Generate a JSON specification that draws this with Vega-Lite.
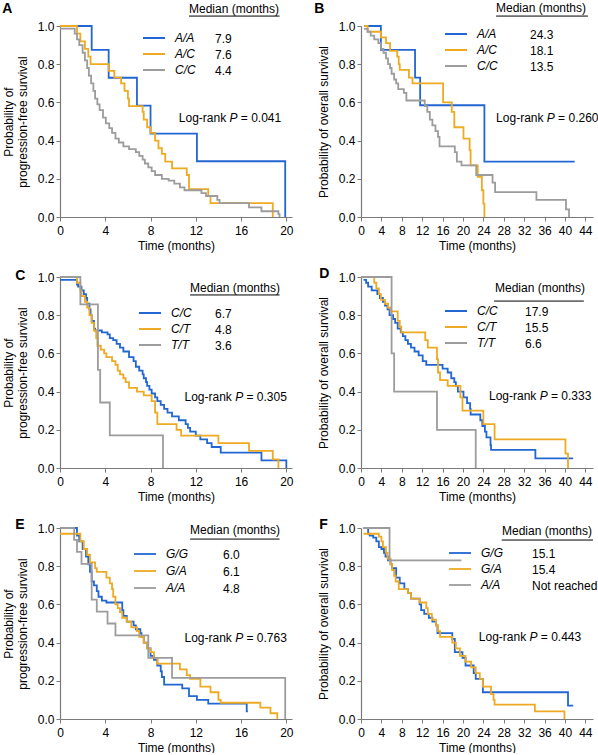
{
  "$schema": "https://vega.github.io/schema/vega-lite/v6.json",
  "background": "white",
  "padding": {"left": 2, "top": 2, "right": 0, "bottom": 0},
  "columns": 2,
  "spacing": {"column": 20, "row": 16},
  "resolve": {"scale": {"color": "independent", "opacity": "independent", "x": "independent", "y": "independent"}, "legend": {"color": "independent", "opacity": "independent"}},
  "config": {
    "font": "Liberation Sans",
    "view": {"stroke": null},
    "axis": {"domainColor": "#7a7a7a", "tickColor": "#7a7a7a", "labelColor": "#000000", "titleColor": "#000000", "labelFontSize": 12, "titleFontSize": 12, "titleFontWeight": "normal", "grid": false, "tickSize": 4, "labelPadding": 2, "labelFlush": false, "labelOverlap": false, "domainWidth": 1.2, "tickCount": 20},
    "axisX": {"titlePadding": 4, "labelPadding": 4},
    "axisY": {"titlePadding": 8},
    "legend": {"padding": 0, "labelFontSize": 12, "labelColor": "#000000", "titleColor": "#000000", "titleFontSize": 12, "titleFontWeight": "normal", "clipHeight": 14, "rowPadding": 2, "orient": "none"},
    "title": {"anchor": "start", "frame": "bounds", "fontSize": 14, "fontWeight": "bold", "offset": 0, "color": "#000000"},
    "line": {"interpolate": "step-after", "strokeWidth": 1.8},
    "text": {"fontSize": 12, "align": "left", "baseline": "middle", "color": "#000000"}
  },
  "datasets": {
    "A": [
      {"g":"A/A","m":"7.9","t":0,"s":1},{"g":"A/A","m":"7.9","t":2.8,"s":0.875},{"g":"A/A","m":"7.9","t":4.3,"s":0.729},{"g":"A/A","m":"7.9","t":6.8,"s":0.583},{"g":"A/A","m":"7.9","t":8.0,"s":0.437},{"g":"A/A","m":"7.9","t":12.1,"s":0.292},{"g":"A/A","m":"7.9","t":19.9,"s":0},
      {"g":"A/C","m":"7.6","t":0,"s":1},{"g":"A/C","m":"7.6","t":1.5,"s":0.96},{"g":"A/C","m":"7.6","t":1.8,"s":0.92},{"g":"A/C","m":"7.6","t":2.2,"s":0.88},{"g":"A/C","m":"7.6","t":2.5,"s":0.84},{"g":"A/C","m":"7.6","t":2.7,"s":0.8},{"g":"A/C","m":"7.6","t":4.3,"s":0.765},{"g":"A/C","m":"7.6","t":4.8,"s":0.73},{"g":"A/C","m":"7.6","t":5.4,"s":0.7},{"g":"A/C","m":"7.6","t":5.7,"s":0.66},{"g":"A/C","m":"7.6","t":6.0,"s":0.62},{"g":"A/C","m":"7.6","t":6.1,"s":0.58},{"g":"A/C","m":"7.6","t":7.3,"s":0.55},{"g":"A/C","m":"7.6","t":7.4,"s":0.51},{"g":"A/C","m":"7.6","t":7.7,"s":0.47},{"g":"A/C","m":"7.6","t":8.0,"s":0.44},{"g":"A/C","m":"7.6","t":8.4,"s":0.4},{"g":"A/C","m":"7.6","t":8.7,"s":0.36},{"g":"A/C","m":"7.6","t":9.0,"s":0.33},{"g":"A/C","m":"7.6","t":9.3,"s":0.29},{"g":"A/C","m":"7.6","t":9.9,"s":0.255},{"g":"A/C","m":"7.6","t":11.2,"s":0.22},{"g":"A/C","m":"7.6","t":11.4,"s":0.146},{"g":"A/C","m":"7.6","t":13.1,"s":0.11},{"g":"A/C","m":"7.6","t":13.3,"s":0.073},{"g":"A/C","m":"7.6","t":18.8,"s":0},
      {"g":"C/C","m":"4.4","t":0,"s":0.986},{"g":"C/C","m":"4.4","t":1.3,"s":0.96},{"g":"C/C","m":"4.4","t":1.5,"s":0.93},{"g":"C/C","m":"4.4","t":1.7,"s":0.9},{"g":"C/C","m":"4.4","t":2.0,"s":0.86},{"g":"C/C","m":"4.4","t":2.2,"s":0.82},{"g":"C/C","m":"4.4","t":2.4,"s":0.78},{"g":"C/C","m":"4.4","t":2.55,"s":0.74},{"g":"C/C","m":"4.4","t":2.75,"s":0.7},{"g":"C/C","m":"4.4","t":2.95,"s":0.66},{"g":"C/C","m":"4.4","t":3.1,"s":0.62},{"g":"C/C","m":"4.4","t":3.3,"s":0.59},{"g":"C/C","m":"4.4","t":3.5,"s":0.56},{"g":"C/C","m":"4.4","t":3.8,"s":0.52},{"g":"C/C","m":"4.4","t":4.05,"s":0.49},{"g":"C/C","m":"4.4","t":4.35,"s":0.465},{"g":"C/C","m":"4.4","t":4.6,"s":0.44},{"g":"C/C","m":"4.4","t":4.9,"s":0.41},{"g":"C/C","m":"4.4","t":5.2,"s":0.39},{"g":"C/C","m":"4.4","t":5.6,"s":0.37},{"g":"C/C","m":"4.4","t":6.1,"s":0.355},{"g":"C/C","m":"4.4","t":6.7,"s":0.34},{"g":"C/C","m":"4.4","t":7.0,"s":0.32},{"g":"C/C","m":"4.4","t":7.3,"s":0.3},{"g":"C/C","m":"4.4","t":7.5,"s":0.28},{"g":"C/C","m":"4.4","t":7.8,"s":0.26},{"g":"C/C","m":"4.4","t":8.1,"s":0.24},{"g":"C/C","m":"4.4","t":8.4,"s":0.22},{"g":"C/C","m":"4.4","t":9.0,"s":0.2},{"g":"C/C","m":"4.4","t":9.6,"s":0.19},{"g":"C/C","m":"4.4","t":10.1,"s":0.175},{"g":"C/C","m":"4.4","t":10.6,"s":0.155},{"g":"C/C","m":"4.4","t":11.0,"s":0.14},{"g":"C/C","m":"4.4","t":12.5,"s":0.125},{"g":"C/C","m":"4.4","t":12.9,"s":0.11},{"g":"C/C","m":"4.4","t":13.9,"s":0.09},{"g":"C/C","m":"4.4","t":14.1,"s":0.073},{"g":"C/C","m":"4.4","t":16.7,"s":0.05},{"g":"C/C","m":"4.4","t":17.8,"s":0.03},{"g":"C/C","m":"4.4","t":19.3,"s":0.015},{"g":"C/C","m":"4.4","t":19.4,"s":0}
    ],
    "B": [
      {"g":"A/A","m":"24.3","t":0.6,"s":1},{"g":"A/A","m":"24.3","t":3.9,"s":0.875},{"g":"A/A","m":"24.3","t":10.6,"s":0.73},{"g":"A/A","m":"24.3","t":11.6,"s":0.585},{"g":"A/A","m":"24.3","t":24.2,"s":0.29},{"g":"A/A","m":"24.3","t":41.9,"s":0.29},
      {"g":"A/C","m":"18.1","t":0.6,"s":1},{"g":"A/C","m":"18.1","t":1.3,"s":0.97},{"g":"A/C","m":"18.1","t":3.9,"s":0.94},{"g":"A/C","m":"18.1","t":4.9,"s":0.91},{"g":"A/C","m":"18.1","t":5.7,"s":0.87},{"g":"A/C","m":"18.1","t":7.1,"s":0.84},{"g":"A/C","m":"18.1","t":7.4,"s":0.8},{"g":"A/C","m":"18.1","t":7.6,"s":0.77},{"g":"A/C","m":"18.1","t":9.4,"s":0.73},{"g":"A/C","m":"18.1","t":10.1,"s":0.7},{"g":"A/C","m":"18.1","t":16.1,"s":0.6},{"g":"A/C","m":"18.1","t":17.8,"s":0.55},{"g":"A/C","m":"18.1","t":18.3,"s":0.47},{"g":"A/C","m":"18.1","t":20.1,"s":0.41},{"g":"A/C","m":"18.1","t":21.3,"s":0.35},{"g":"A/C","m":"18.1","t":21.5,"s":0.27},{"g":"A/C","m":"18.1","t":22.9,"s":0.21},{"g":"A/C","m":"18.1","t":23.7,"s":0.14},{"g":"A/C","m":"18.1","t":24.0,"s":0.07},{"g":"A/C","m":"18.1","t":24.2,"s":0},
      {"g":"C/C","m":"13.5","t":0.6,"s":0.985},{"g":"C/C","m":"13.5","t":1.3,"s":0.97},{"g":"C/C","m":"13.5","t":1.9,"s":0.95},{"g":"C/C","m":"13.5","t":2.6,"s":0.93},{"g":"C/C","m":"13.5","t":3.4,"s":0.91},{"g":"C/C","m":"13.5","t":3.9,"s":0.88},{"g":"C/C","m":"13.5","t":4.4,"s":0.86},{"g":"C/C","m":"13.5","t":4.9,"s":0.83},{"g":"C/C","m":"13.5","t":5.3,"s":0.8},{"g":"C/C","m":"13.5","t":5.7,"s":0.78},{"g":"C/C","m":"13.5","t":6.0,"s":0.75},{"g":"C/C","m":"13.5","t":6.5,"s":0.72},{"g":"C/C","m":"13.5","t":6.9,"s":0.7},{"g":"C/C","m":"13.5","t":7.3,"s":0.67},{"g":"C/C","m":"13.5","t":8.4,"s":0.65},{"g":"C/C","m":"13.5","t":8.9,"s":0.61},{"g":"C/C","m":"13.5","t":12.5,"s":0.58},{"g":"C/C","m":"13.5","t":13.0,"s":0.55},{"g":"C/C","m":"13.5","t":13.5,"s":0.51},{"g":"C/C","m":"13.5","t":14.0,"s":0.48},{"g":"C/C","m":"13.5","t":14.6,"s":0.45},{"g":"C/C","m":"13.5","t":15.1,"s":0.42},{"g":"C/C","m":"13.5","t":15.4,"s":0.37},{"g":"C/C","m":"13.5","t":18.4,"s":0.34},{"g":"C/C","m":"13.5","t":18.8,"s":0.29},{"g":"C/C","m":"13.5","t":19.7,"s":0.27},{"g":"C/C","m":"13.5","t":22.6,"s":0.22},{"g":"C/C","m":"13.5","t":25.8,"s":0.18},{"g":"C/C","m":"13.5","t":26.3,"s":0.13},{"g":"C/C","m":"13.5","t":34.4,"s":0.09},{"g":"C/C","m":"13.5","t":40.2,"s":0.04},{"g":"C/C","m":"13.5","t":40.8,"s":0}
    ],
    "C": [
      {"g":"C/C","m":"6.7","t":0,"s":0.985},{"g":"C/C","m":"6.7","t":1.5,"s":0.96},{"g":"C/C","m":"6.7","t":1.6,"s":0.95},{"g":"C/C","m":"6.7","t":1.9,"s":0.93},{"g":"C/C","m":"6.7","t":2.1,"s":0.91},{"g":"C/C","m":"6.7","t":2.3,"s":0.89},{"g":"C/C","m":"6.7","t":2.4,"s":0.86},{"g":"C/C","m":"6.7","t":2.6,"s":0.83},{"g":"C/C","m":"6.7","t":2.7,"s":0.8},{"g":"C/C","m":"6.7","t":2.8,"s":0.77},{"g":"C/C","m":"6.7","t":3.0,"s":0.73},{"g":"C/C","m":"6.7","t":3.1,"s":0.72},{"g":"C/C","m":"6.7","t":3.7,"s":0.71},{"g":"C/C","m":"6.7","t":4.2,"s":0.7},{"g":"C/C","m":"6.7","t":4.4,"s":0.68},{"g":"C/C","m":"6.7","t":4.7,"s":0.67},{"g":"C/C","m":"6.7","t":5.0,"s":0.65},{"g":"C/C","m":"6.7","t":5.3,"s":0.63},{"g":"C/C","m":"6.7","t":5.6,"s":0.61},{"g":"C/C","m":"6.7","t":6.1,"s":0.58},{"g":"C/C","m":"6.7","t":6.5,"s":0.56},{"g":"C/C","m":"6.7","t":6.7,"s":0.53},{"g":"C/C","m":"6.7","t":7.0,"s":0.51},{"g":"C/C","m":"6.7","t":7.3,"s":0.49},{"g":"C/C","m":"6.7","t":7.4,"s":0.47},{"g":"C/C","m":"6.7","t":7.6,"s":0.45},{"g":"C/C","m":"6.7","t":7.7,"s":0.43},{"g":"C/C","m":"6.7","t":7.9,"s":0.41},{"g":"C/C","m":"6.7","t":8.1,"s":0.39},{"g":"C/C","m":"6.7","t":8.4,"s":0.37},{"g":"C/C","m":"6.7","t":8.6,"s":0.35},{"g":"C/C","m":"6.7","t":8.9,"s":0.33},{"g":"C/C","m":"6.7","t":9.2,"s":0.31},{"g":"C/C","m":"6.7","t":9.5,"s":0.29},{"g":"C/C","m":"6.7","t":9.9,"s":0.27},{"g":"C/C","m":"6.7","t":10.5,"s":0.25},{"g":"C/C","m":"6.7","t":11.1,"s":0.23},{"g":"C/C","m":"6.7","t":11.3,"s":0.21},{"g":"C/C","m":"6.7","t":11.5,"s":0.19},{"g":"C/C","m":"6.7","t":12.0,"s":0.17},{"g":"C/C","m":"6.7","t":12.4,"s":0.15},{"g":"C/C","m":"6.7","t":13.0,"s":0.13},{"g":"C/C","m":"6.7","t":13.4,"s":0.11},{"g":"C/C","m":"6.7","t":14.2,"s":0.08},{"g":"C/C","m":"6.7","t":17.8,"s":0.04},{"g":"C/C","m":"6.7","t":20.0,"s":0},
      {"g":"C/T","m":"4.8","t":0,"s":1},{"g":"C/T","m":"4.8","t":1.5,"s":0.97},{"g":"C/T","m":"4.8","t":1.8,"s":0.93},{"g":"C/T","m":"4.8","t":1.9,"s":0.9},{"g":"C/T","m":"4.8","t":2.2,"s":0.87},{"g":"C/T","m":"4.8","t":2.4,"s":0.84},{"g":"C/T","m":"4.8","t":2.6,"s":0.8},{"g":"C/T","m":"4.8","t":2.8,"s":0.76},{"g":"C/T","m":"4.8","t":3.0,"s":0.72},{"g":"C/T","m":"4.8","t":3.2,"s":0.68},{"g":"C/T","m":"4.8","t":3.3,"s":0.64},{"g":"C/T","m":"4.8","t":3.6,"s":0.62},{"g":"C/T","m":"4.8","t":3.9,"s":0.6},{"g":"C/T","m":"4.8","t":4.1,"s":0.58},{"g":"C/T","m":"4.8","t":4.6,"s":0.56},{"g":"C/T","m":"4.8","t":4.9,"s":0.54},{"g":"C/T","m":"4.8","t":5.1,"s":0.51},{"g":"C/T","m":"4.8","t":5.3,"s":0.49},{"g":"C/T","m":"4.8","t":5.6,"s":0.47},{"g":"C/T","m":"4.8","t":5.8,"s":0.45},{"g":"C/T","m":"4.8","t":6.1,"s":0.42},{"g":"C/T","m":"4.8","t":6.8,"s":0.4},{"g":"C/T","m":"4.8","t":7.4,"s":0.38},{"g":"C/T","m":"4.8","t":8.1,"s":0.35},{"g":"C/T","m":"4.8","t":8.4,"s":0.29},{"g":"C/T","m":"4.8","t":8.6,"s":0.23},{"g":"C/T","m":"4.8","t":10.3,"s":0.2},{"g":"C/T","m":"4.8","t":10.7,"s":0.17},{"g":"C/T","m":"4.8","t":14.0,"s":0.13},{"g":"C/T","m":"4.8","t":16.7,"s":0.09},{"g":"C/T","m":"4.8","t":18.8,"s":0.045},{"g":"C/T","m":"4.8","t":19.3,"s":0},
      {"g":"T/T","m":"3.6","t":0,"s":1},{"g":"T/T","m":"3.6","t":1.8,"s":0.857},{"g":"T/T","m":"3.6","t":3.35,"s":0.514},{"g":"T/T","m":"3.6","t":3.55,"s":0.343},{"g":"T/T","m":"3.6","t":4.4,"s":0.171},{"g":"T/T","m":"3.6","t":9.1,"s":0}
    ],
    "D": [
      {"g":"C/C","m":"17.9","t":0.5,"s":0.985},{"g":"C/C","m":"17.9","t":1.0,"s":0.97},{"g":"C/C","m":"17.9","t":1.4,"s":0.95},{"g":"C/C","m":"17.9","t":2.1,"s":0.93},{"g":"C/C","m":"17.9","t":3.2,"s":0.91},{"g":"C/C","m":"17.9","t":3.7,"s":0.89},{"g":"C/C","m":"17.9","t":4.3,"s":0.87},{"g":"C/C","m":"17.9","t":4.7,"s":0.85},{"g":"C/C","m":"17.9","t":5.2,"s":0.83},{"g":"C/C","m":"17.9","t":5.6,"s":0.8},{"g":"C/C","m":"17.9","t":6.3,"s":0.78},{"g":"C/C","m":"17.9","t":6.7,"s":0.76},{"g":"C/C","m":"17.9","t":7.2,"s":0.73},{"g":"C/C","m":"17.9","t":7.8,"s":0.71},{"g":"C/C","m":"17.9","t":8.2,"s":0.69},{"g":"C/C","m":"17.9","t":8.7,"s":0.67},{"g":"C/C","m":"17.9","t":9.2,"s":0.65},{"g":"C/C","m":"17.9","t":9.8,"s":0.63},{"g":"C/C","m":"17.9","t":10.5,"s":0.61},{"g":"C/C","m":"17.9","t":11.3,"s":0.59},{"g":"C/C","m":"17.9","t":12.1,"s":0.56},{"g":"C/C","m":"17.9","t":12.8,"s":0.54},{"g":"C/C","m":"17.9","t":16.0,"s":0.52},{"g":"C/C","m":"17.9","t":17.0,"s":0.5},{"g":"C/C","m":"17.9","t":17.7,"s":0.47},{"g":"C/C","m":"17.9","t":18.3,"s":0.45},{"g":"C/C","m":"17.9","t":18.6,"s":0.43},{"g":"C/C","m":"17.9","t":19.0,"s":0.4},{"g":"C/C","m":"17.9","t":20.1,"s":0.37},{"g":"C/C","m":"17.9","t":20.8,"s":0.34},{"g":"C/C","m":"17.9","t":21.4,"s":0.31},{"g":"C/C","m":"17.9","t":21.5,"s":0.28},{"g":"C/C","m":"17.9","t":23.4,"s":0.25},{"g":"C/C","m":"17.9","t":23.8,"s":0.22},{"g":"C/C","m":"17.9","t":24.3,"s":0.19},{"g":"C/C","m":"17.9","t":24.6,"s":0.16},{"g":"C/C","m":"17.9","t":25.4,"s":0.12},{"g":"C/C","m":"17.9","t":25.5,"s":0.095},{"g":"C/C","m":"17.9","t":34.2,"s":0.05},{"g":"C/C","m":"17.9","t":41.6,"s":0.05},
      {"g":"C/T","m":"15.5","t":0,"s":1},{"g":"C/T","m":"15.5","t":2.6,"s":0.97},{"g":"C/T","m":"15.5","t":3.0,"s":0.94},{"g":"C/T","m":"15.5","t":3.5,"s":0.91},{"g":"C/T","m":"15.5","t":3.9,"s":0.88},{"g":"C/T","m":"15.5","t":4.7,"s":0.86},{"g":"C/T","m":"15.5","t":5.3,"s":0.84},{"g":"C/T","m":"15.5","t":5.8,"s":0.82},{"g":"C/T","m":"15.5","t":7.2,"s":0.77},{"g":"C/T","m":"15.5","t":7.6,"s":0.74},{"g":"C/T","m":"15.5","t":7.9,"s":0.71},{"g":"C/T","m":"15.5","t":12.6,"s":0.67},{"g":"C/T","m":"15.5","t":13.1,"s":0.63},{"g":"C/T","m":"15.5","t":14.9,"s":0.57},{"g":"C/T","m":"15.5","t":15.1,"s":0.5},{"g":"C/T","m":"15.5","t":15.5,"s":0.46},{"g":"C/T","m":"15.5","t":17.0,"s":0.43},{"g":"C/T","m":"15.5","t":19.5,"s":0.37},{"g":"C/T","m":"15.5","t":19.9,"s":0.3},{"g":"C/T","m":"15.5","t":24.0,"s":0.23},{"g":"C/T","m":"15.5","t":26.2,"s":0.15},{"g":"C/T","m":"15.5","t":40.1,"s":0.075},{"g":"C/T","m":"15.5","t":40.6,"s":0},
      {"g":"T/T","m":"6.6","t":0,"s":1},{"g":"T/T","m":"6.6","t":6.0,"s":0.6},{"g":"T/T","m":"6.6","t":6.5,"s":0.4},{"g":"T/T","m":"6.6","t":14.9,"s":0.2},{"g":"T/T","m":"6.6","t":22.5,"s":0}
    ],
    "E": [
      {"g":"G/G","m":"6.0","t":0,"s":1},{"g":"G/G","m":"6.0","t":1.5,"s":0.96},{"g":"G/G","m":"6.0","t":1.7,"s":0.93},{"g":"G/G","m":"6.0","t":2.0,"s":0.89},{"g":"G/G","m":"6.0","t":2.3,"s":0.85},{"g":"G/G","m":"6.0","t":2.5,"s":0.81},{"g":"G/G","m":"6.0","t":2.65,"s":0.77},{"g":"G/G","m":"6.0","t":2.8,"s":0.72},{"g":"G/G","m":"6.0","t":3.0,"s":0.7},{"g":"G/G","m":"6.0","t":3.25,"s":0.67},{"g":"G/G","m":"6.0","t":3.4,"s":0.64},{"g":"G/G","m":"6.0","t":3.7,"s":0.62},{"g":"G/G","m":"6.0","t":4.1,"s":0.61},{"g":"G/G","m":"6.0","t":5.5,"s":0.57},{"g":"G/G","m":"6.0","t":5.6,"s":0.54},{"g":"G/G","m":"6.0","t":5.9,"s":0.51},{"g":"G/G","m":"6.0","t":6.5,"s":0.49},{"g":"G/G","m":"6.0","t":6.7,"s":0.47},{"g":"G/G","m":"6.0","t":7.1,"s":0.45},{"g":"G/G","m":"6.0","t":7.2,"s":0.43},{"g":"G/G","m":"6.0","t":7.4,"s":0.4},{"g":"G/G","m":"6.0","t":7.7,"s":0.37},{"g":"G/G","m":"6.0","t":8.0,"s":0.33},{"g":"G/G","m":"6.0","t":8.3,"s":0.31},{"g":"G/G","m":"6.0","t":8.6,"s":0.28},{"g":"G/G","m":"6.0","t":8.9,"s":0.25},{"g":"G/G","m":"6.0","t":9.0,"s":0.22},{"g":"G/G","m":"6.0","t":9.2,"s":0.18},{"g":"G/G","m":"6.0","t":10.8,"s":0.16},{"g":"G/G","m":"6.0","t":11.4,"s":0.12},{"g":"G/G","m":"6.0","t":12.1,"s":0.1},{"g":"G/G","m":"6.0","t":13.1,"s":0.08},{"g":"G/G","m":"6.0","t":16.5,"s":0.04},{"g":"G/G","m":"6.0","t":16.6,"s":0.04},
      {"g":"G/A","m":"6.1","t":0,"s":0.97},{"g":"G/A","m":"6.1","t":1.8,"s":0.93},{"g":"G/A","m":"6.1","t":2.1,"s":0.89},{"g":"G/A","m":"6.1","t":2.4,"s":0.86},{"g":"G/A","m":"6.1","t":2.65,"s":0.82},{"g":"G/A","m":"6.1","t":3.1,"s":0.79},{"g":"G/A","m":"6.1","t":3.25,"s":0.77},{"g":"G/A","m":"6.1","t":4.1,"s":0.74},{"g":"G/A","m":"6.1","t":4.4,"s":0.71},{"g":"G/A","m":"6.1","t":4.6,"s":0.68},{"g":"G/A","m":"6.1","t":4.7,"s":0.64},{"g":"G/A","m":"6.1","t":4.9,"s":0.6},{"g":"G/A","m":"6.1","t":5.1,"s":0.58},{"g":"G/A","m":"6.1","t":5.3,"s":0.56},{"g":"G/A","m":"6.1","t":5.5,"s":0.53},{"g":"G/A","m":"6.1","t":5.9,"s":0.51},{"g":"G/A","m":"6.1","t":6.3,"s":0.48},{"g":"G/A","m":"6.1","t":6.8,"s":0.46},{"g":"G/A","m":"6.1","t":7.0,"s":0.43},{"g":"G/A","m":"6.1","t":7.4,"s":0.4},{"g":"G/A","m":"6.1","t":7.7,"s":0.37},{"g":"G/A","m":"6.1","t":8.0,"s":0.35},{"g":"G/A","m":"6.1","t":8.3,"s":0.32},{"g":"G/A","m":"6.1","t":8.6,"s":0.29},{"g":"G/A","m":"6.1","t":10.6,"s":0.26},{"g":"G/A","m":"6.1","t":11.2,"s":0.23},{"g":"G/A","m":"6.1","t":11.5,"s":0.21},{"g":"G/A","m":"6.1","t":12.4,"s":0.17},{"g":"G/A","m":"6.1","t":13.3,"s":0.14},{"g":"G/A","m":"6.1","t":14.0,"s":0.1},{"g":"G/A","m":"6.1","t":14.2,"s":0.085},{"g":"G/A","m":"6.1","t":17.7,"s":0.06},{"g":"G/A","m":"6.1","t":18.6,"s":0.03},{"g":"G/A","m":"6.1","t":19.2,"s":0},
      {"g":"A/A","m":"4.8","t":0,"s":1},{"g":"A/A","m":"4.8","t":1.25,"s":0.9375},{"g":"A/A","m":"4.8","t":1.5,"s":0.875},{"g":"A/A","m":"4.8","t":1.9,"s":0.8125},{"g":"A/A","m":"4.8","t":2.8,"s":0.625},{"g":"A/A","m":"4.8","t":3.25,"s":0.5625},{"g":"A/A","m":"4.8","t":4.2,"s":0.5},{"g":"A/A","m":"4.8","t":4.9,"s":0.4375},{"g":"A/A","m":"4.8","t":7.8,"s":0.32},{"g":"A/A","m":"4.8","t":9.9,"s":0.215},{"g":"A/A","m":"4.8","t":19.9,"s":0}
    ],
    "F": [
      {"g":"G/G","m":"15.1","t":0.5,"s":1},{"g":"G/G","m":"15.1","t":1.4,"s":0.97},{"g":"G/G","m":"15.1","t":1.7,"s":0.96},{"g":"G/G","m":"15.1","t":2.4,"s":0.95},{"g":"G/G","m":"15.1","t":3.0,"s":0.93},{"g":"G/G","m":"15.1","t":3.5,"s":0.9},{"g":"G/G","m":"15.1","t":4.0,"s":0.89},{"g":"G/G","m":"15.1","t":4.5,"s":0.87},{"g":"G/G","m":"15.1","t":4.8,"s":0.85},{"g":"G/G","m":"15.1","t":5.3,"s":0.83},{"g":"G/G","m":"15.1","t":5.8,"s":0.81},{"g":"G/G","m":"15.1","t":6.1,"s":0.79},{"g":"G/G","m":"15.1","t":6.9,"s":0.74},{"g":"G/G","m":"15.1","t":7.6,"s":0.71},{"g":"G/G","m":"15.1","t":8.5,"s":0.68},{"g":"G/G","m":"15.1","t":9.2,"s":0.66},{"g":"G/G","m":"15.1","t":9.8,"s":0.63},{"g":"G/G","m":"15.1","t":11.5,"s":0.6},{"g":"G/G","m":"15.1","t":11.8,"s":0.57},{"g":"G/G","m":"15.1","t":12.4,"s":0.55},{"g":"G/G","m":"15.1","t":13.3,"s":0.53},{"g":"G/G","m":"15.1","t":14.0,"s":0.51},{"g":"G/G","m":"15.1","t":14.7,"s":0.49},{"g":"G/G","m":"15.1","t":15.0,"s":0.45},{"g":"G/G","m":"15.1","t":17.9,"s":0.42},{"g":"G/G","m":"15.1","t":18.4,"s":0.35},{"g":"G/G","m":"15.1","t":19.9,"s":0.32},{"g":"G/G","m":"15.1","t":20.5,"s":0.28},{"g":"G/G","m":"15.1","t":22.1,"s":0.24},{"g":"G/G","m":"15.1","t":22.5,"s":0.21},{"g":"G/G","m":"15.1","t":23.9,"s":0.14},{"g":"G/G","m":"15.1","t":40.6,"s":0.07},{"g":"G/G","m":"15.1","t":41.6,"s":0.07},
      {"g":"G/A","m":"15.4","t":0.5,"s":0.97},{"g":"G/A","m":"15.4","t":3.5,"s":0.955},{"g":"G/A","m":"15.4","t":4.0,"s":0.93},{"g":"G/A","m":"15.4","t":4.3,"s":0.9},{"g":"G/A","m":"15.4","t":4.9,"s":0.87},{"g":"G/A","m":"15.4","t":5.2,"s":0.84},{"g":"G/A","m":"15.4","t":5.8,"s":0.81},{"g":"G/A","m":"15.4","t":6.1,"s":0.78},{"g":"G/A","m":"15.4","t":6.5,"s":0.75},{"g":"G/A","m":"15.4","t":6.8,"s":0.72},{"g":"G/A","m":"15.4","t":7.4,"s":0.68},{"g":"G/A","m":"15.4","t":9.2,"s":0.66},{"g":"G/A","m":"15.4","t":9.8,"s":0.63},{"g":"G/A","m":"15.4","t":11.5,"s":0.61},{"g":"G/A","m":"15.4","t":12.8,"s":0.58},{"g":"G/A","m":"15.4","t":13.1,"s":0.55},{"g":"G/A","m":"15.4","t":13.9,"s":0.52},{"g":"G/A","m":"15.4","t":14.7,"s":0.49},{"g":"G/A","m":"15.4","t":15.1,"s":0.46},{"g":"G/A","m":"15.4","t":15.5,"s":0.43},{"g":"G/A","m":"15.4","t":17.9,"s":0.4},{"g":"G/A","m":"15.4","t":18.6,"s":0.37},{"g":"G/A","m":"15.4","t":19.4,"s":0.33},{"g":"G/A","m":"15.4","t":20.5,"s":0.3},{"g":"G/A","m":"15.4","t":21.6,"s":0.27},{"g":"G/A","m":"15.4","t":22.5,"s":0.24},{"g":"G/A","m":"15.4","t":23.3,"s":0.21},{"g":"G/A","m":"15.4","t":23.9,"s":0.17},{"g":"G/A","m":"15.4","t":25.5,"s":0.13},{"g":"G/A","m":"15.4","t":26.0,"s":0.1},{"g":"G/A","m":"15.4","t":26.2,"s":0.075},{"g":"G/A","m":"15.4","t":34.1,"s":0.04},{"g":"G/A","m":"15.4","t":39.9,"s":0},
      {"g":"A/A","m":"Not reached","t":0.5,"s":1},{"g":"A/A","m":"Not reached","t":5.6,"s":0.83},{"g":"A/A","m":"Not reached","t":19.7,"s":0.83}
    ]
  },
  "concat": [
    {
      "width": 232, "height": 191,
      "title": {"text": "A", "dy": 16},
      "layer": [
        {"data": {"name": "A"}, "mark": "line", "encoding": {
          "x": {"field": "t", "type": "quantitative", "scale": {"domain": [0, 20.5], "nice": false}, "axis": {"values": [0,4,8,12,16,20], "tickCount": 20, "labelOverlap": false, "title": "Time (months)"}},
          "y": {"field": "s", "type": "quantitative", "scale": {"domain": [0, 1], "nice": false}, "axis": {"values": [0,0.2,0.4,0.6,0.8,1], "tickCount": 20, "labelOverlap": false, "format": ".1f", "title": ["Probability of", "progression-free survival"]}},
          "color": {"field": "g", "type": "nominal", "sort": ["A/A","A/C","C/C"], "scale": {"range": ["#2266d4","#eeaa22","#9c9c9c"]}, "legend": {"title": null, "legendX": 82, "legendY": 5, "symbolType": "stroke", "symbolSize": 484, "symbolStrokeWidth": 1.8, "labelOffset": 9, "labelFontStyle": "italic"}},
          "opacity": {"field": "m", "type": "ordinal", "sort": ["7.9","7.6","4.4"], "scale": {"range": [1, 1]}, "legend": {"title": "Median (months)", "legendX": 129, "legendY": -22, "titlePadding": 16, "symbolSize": 0, "symbolStrokeWidth": 0, "labelOffset": 14}}
        }},
        {"data": {"values": [{}]}, "mark": {"type": "rule", "color": "#000000", "strokeWidth": 1}, "encoding": {"x": {"datum": 11.4}, "x2": {"datum": 19.4}, "y": {"datum": 1.052}}},
        {"data": {"values": [{"p": "= 0.041"}]}, "layer": [
          {"mark": {"type": "text", "text": "Log-rank"}, "encoding": {"x": {"datum": 10.5}, "y": {"datum": 0.518}}},
          {"mark": {"type": "text", "text": "P", "fontStyle": "italic", "dx": 50.7}, "encoding": {"x": {"datum": 10.5}, "y": {"datum": 0.518}}},
          {"mark": {"type": "text", "dx": 62}, "encoding": {"text": {"field": "p"}, "x": {"datum": 10.5}, "y": {"datum": 0.518}}}
        ]}
      ]
    },
    {
      "width": 232, "height": 191,
      "title": {"text": "B", "dy": 17, "dx": -3},
      "layer": [
        {"data": {"name": "B"}, "mark": "line", "encoding": {
          "x": {"field": "t", "type": "quantitative", "scale": {"domain": [0, 45.5], "nice": false}, "axis": {"values": [0,4,8,12,16,20,24,28,32,36,40,44], "tickCount": 20, "labelOverlap": false, "title": "Time (months)"}},
          "y": {"field": "s", "type": "quantitative", "scale": {"domain": [0, 1], "nice": false}, "axis": {"values": [0,0.2,0.4,0.6,0.8,1], "tickCount": 20, "labelOverlap": false, "format": ".1f", "title": "Probability of overall survival"}},
          "color": {"field": "g", "type": "nominal", "sort": ["A/A","A/C","C/C"], "scale": {"range": ["#2266d4","#eeaa22","#9c9c9c"]}, "legend": {"title": null, "legendX": 83, "legendY": 1, "symbolType": "stroke", "symbolSize": 484, "symbolStrokeWidth": 1.8, "labelOffset": 9, "labelFontStyle": "italic"}},
          "opacity": {"field": "m", "type": "ordinal", "sort": ["24.3","18.1","13.5"], "scale": {"range": [1, 1]}, "legend": {"title": "Median (months)", "legendX": 135, "legendY": -23, "titlePadding": 13, "symbolSize": 0, "symbolStrokeWidth": 0, "labelOffset": 22}}
        }},
        {"data": {"values": [{}]}, "mark": {"type": "rule", "color": "#000000", "strokeWidth": 1}, "encoding": {"x": {"datum": 26.5}, "x2": {"datum": 44.5}, "y": {"datum": 1.052}}},
        {"data": {"values": [{"p": "= 0.260"}]}, "layer": [
          {"mark": {"type": "text", "text": "Log-rank"}, "encoding": {"x": {"datum": 26.5}, "y": {"datum": 0.518}}},
          {"mark": {"type": "text", "text": "P", "fontStyle": "italic", "dx": 50.7}, "encoding": {"x": {"datum": 26.5}, "y": {"datum": 0.518}}},
          {"mark": {"type": "text", "dx": 62}, "encoding": {"text": {"field": "p"}, "x": {"datum": 26.5}, "y": {"datum": 0.518}}}
        ]}
      ]
    },
    {
      "width": 232, "height": 191,
      "title": {"text": "C", "dy": 16, "dx": 13},
      "layer": [
        {"data": {"name": "C"}, "mark": "line", "encoding": {
          "x": {"field": "t", "type": "quantitative", "scale": {"domain": [0, 20.5], "nice": false}, "axis": {"values": [0,4,8,12,16,20], "tickCount": 20, "labelOverlap": false, "title": "Time (months)"}},
          "y": {"field": "s", "type": "quantitative", "scale": {"domain": [0, 1], "nice": false}, "axis": {"values": [0,0.2,0.4,0.6,0.8,1], "tickCount": 20, "labelOverlap": false, "format": ".1f", "title": ["Probability of", "progression-free survival"]}},
          "color": {"field": "g", "type": "nominal", "sort": ["C/C","C/T","T/T"], "scale": {"range": ["#2266d4","#eeaa22","#9c9c9c"]}, "legend": {"title": null, "legendX": 78, "legendY": 29, "symbolType": "stroke", "symbolSize": 484, "symbolStrokeWidth": 1.8, "labelOffset": 9, "labelFontStyle": "italic"}},
          "opacity": {"field": "m", "type": "ordinal", "sort": ["6.7","4.8","3.6"], "scale": {"range": [1, 1]}, "legend": {"title": "Median (months)", "legendX": 130, "legendY": 6, "titlePadding": 12, "symbolSize": 0, "symbolStrokeWidth": 0, "labelOffset": 13}}
        }},
        {"data": {"values": [{}]}, "mark": {"type": "rule", "color": "#000000", "strokeWidth": 1}, "encoding": {"x": {"datum": 11.5}, "x2": {"datum": 19.4}, "y": {"datum": 0.906}}},
        {"data": {"values": [{"p": "= 0.305"}]}, "layer": [
          {"mark": {"type": "text", "text": "Log-rank"}, "encoding": {"x": {"datum": 11.0}, "y": {"datum": 0.372}}},
          {"mark": {"type": "text", "text": "P", "fontStyle": "italic", "dx": 50.7}, "encoding": {"x": {"datum": 11.0}, "y": {"datum": 0.372}}},
          {"mark": {"type": "text", "dx": 62}, "encoding": {"text": {"field": "p"}, "x": {"datum": 11.0}, "y": {"datum": 0.372}}}
        ]}
      ]
    },
    {
      "width": 232, "height": 191,
      "title": {"text": "D", "dy": 14, "dx": 2},
      "layer": [
        {"data": {"name": "D"}, "mark": "line", "encoding": {
          "x": {"field": "t", "type": "quantitative", "scale": {"domain": [0, 45.5], "nice": false}, "axis": {"values": [0,4,8,12,16,20,24,28,32,36,40,44], "tickCount": 20, "labelOverlap": false, "title": "Time (months)"}},
          "y": {"field": "s", "type": "quantitative", "scale": {"domain": [0, 1], "nice": false}, "axis": {"values": [0,0.2,0.4,0.6,0.8,1], "tickCount": 20, "labelOverlap": false, "format": ".1f", "title": "Probability of overall survival"}},
          "color": {"field": "g", "type": "nominal", "sort": ["C/C","C/T","T/T"], "scale": {"range": ["#2266d4","#eeaa22","#9c9c9c"]}, "legend": {"title": null, "legendX": 83, "legendY": 27, "symbolType": "stroke", "symbolSize": 484, "symbolStrokeWidth": 1.8, "labelOffset": 9, "labelFontStyle": "italic"}},
          "opacity": {"field": "m", "type": "ordinal", "sort": ["17.9","15.5","6.6"], "scale": {"range": [1, 1]}, "legend": {"title": "Median (months)", "legendX": 134, "legendY": 6, "titlePadding": 10, "symbolSize": 0, "symbolStrokeWidth": 0, "labelOffset": 18}}
        }},
        {"data": {"values": [{}]}, "mark": {"type": "rule", "color": "#000000", "strokeWidth": 1}, "encoding": {"x": {"datum": 26.1}, "x2": {"datum": 43.7}, "y": {"datum": 0.874}}},
        {"data": {"values": [{"p": "= 0.333"}]}, "layer": [
          {"mark": {"type": "text", "text": "Log-rank"}, "encoding": {"x": {"datum": 25.1}, "y": {"datum": 0.376}}},
          {"mark": {"type": "text", "text": "P", "fontStyle": "italic", "dx": 50.7}, "encoding": {"x": {"datum": 25.1}, "y": {"datum": 0.376}}},
          {"mark": {"type": "text", "dx": 62}, "encoding": {"text": {"field": "p"}, "x": {"datum": 25.1}, "y": {"datum": 0.376}}}
        ]}
      ]
    },
    {
      "width": 232, "height": 191,
      "title": {"text": "E", "dy": 14, "dx": 13},
      "layer": [
        {"data": {"name": "E"}, "mark": "line", "encoding": {
          "x": {"field": "t", "type": "quantitative", "scale": {"domain": [0, 20.5], "nice": false}, "axis": {"values": [0,4,8,12,16,20], "tickCount": 20, "labelOverlap": false, "title": "Time (months)"}},
          "y": {"field": "s", "type": "quantitative", "scale": {"domain": [0, 1], "nice": false}, "axis": {"values": [0,0.2,0.4,0.6,0.8,1], "tickCount": 20, "labelOverlap": false, "format": ".1f", "title": ["Probability of", "progression-free survival"]}},
          "color": {"field": "g", "type": "nominal", "sort": ["G/G","G/A","A/A"], "scale": {"range": ["#2266d4","#eeaa22","#9c9c9c"]}, "legend": {"title": null, "legendX": 73, "legendY": 19, "rowPadding": 3, "symbolType": "stroke", "symbolSize": 484, "symbolStrokeWidth": 1.8, "labelOffset": 9, "labelFontStyle": "italic"}},
          "opacity": {"field": "m", "type": "ordinal", "sort": ["6.0","6.1","4.8"], "scale": {"range": [1, 1]}, "legend": {"title": "Median (months)", "legendX": 130, "legendY": -3, "rowPadding": 3, "titlePadding": 11, "symbolSize": 0, "symbolStrokeWidth": 0, "labelOffset": 21}}
        }},
        {"data": {"values": [{}]}, "mark": {"type": "rule", "color": "#000000", "strokeWidth": 1}, "encoding": {"x": {"datum": 11.5}, "x2": {"datum": 19.4}, "y": {"datum": 0.942}}},
        {"data": {"values": [{"p": "= 0.763"}]}, "layer": [
          {"mark": {"type": "text", "text": "Log-rank"}, "encoding": {"x": {"datum": 11.0}, "y": {"datum": 0.426}}},
          {"mark": {"type": "text", "text": "P", "fontStyle": "italic", "dx": 50.7}, "encoding": {"x": {"datum": 11.0}, "y": {"datum": 0.426}}},
          {"mark": {"type": "text", "dx": 62}, "encoding": {"text": {"field": "p"}, "x": {"datum": 11.0}, "y": {"datum": 0.426}}}
        ]}
      ]
    },
    {
      "width": 232, "height": 191,
      "title": {"text": "F", "dy": 14, "dx": 2},
      "layer": [
        {"data": {"name": "F"}, "mark": "line", "encoding": {
          "x": {"field": "t", "type": "quantitative", "scale": {"domain": [0, 45.5], "nice": false}, "axis": {"values": [0,4,8,12,16,20,24,28,32,36,40,44], "tickCount": 20, "labelOverlap": false, "title": "Time (months)"}},
          "y": {"field": "s", "type": "quantitative", "scale": {"domain": [0, 1], "nice": false}, "axis": {"values": [0,0.2,0.4,0.6,0.8,1], "tickCount": 20, "labelOverlap": false, "format": ".1f", "title": "Probability of overall survival"}},
          "color": {"field": "g", "type": "nominal", "sort": ["G/G","G/A","A/A"], "scale": {"range": ["#2266d4","#eeaa22","#9c9c9c"]}, "legend": {"title": null, "legendX": 87, "legendY": 18, "symbolType": "stroke", "symbolSize": 484, "symbolStrokeWidth": 1.8, "labelOffset": 9, "labelFontStyle": "italic"}},
          "opacity": {"field": "m", "type": "ordinal", "sort": ["15.1","15.4","Not reached"], "scale": {"range": [1, 1]}, "legend": {"title": "Median (months)", "legendX": 141, "legendY": -2, "titlePadding": 9, "symbolSize": 0, "symbolStrokeWidth": 0, "labelOffset": 18}}
        }},
        {"data": {"values": [{}]}, "mark": {"type": "rule", "color": "#000000", "strokeWidth": 1}, "encoding": {"x": {"datum": 27.6}, "x2": {"datum": 45.5}, "y": {"datum": 0.937}}},
        {"data": {"values": [{"p": "= 0.443"}]}, "layer": [
          {"mark": {"type": "text", "text": "Log-rank"}, "encoding": {"x": {"datum": 23.1}, "y": {"datum": 0.43}}},
          {"mark": {"type": "text", "text": "P", "fontStyle": "italic", "dx": 50.7}, "encoding": {"x": {"datum": 23.1}, "y": {"datum": 0.43}}},
          {"mark": {"type": "text", "dx": 62}, "encoding": {"text": {"field": "p"}, "x": {"datum": 23.1}, "y": {"datum": 0.43}}}
        ]}
      ]
    }
  ]
}
